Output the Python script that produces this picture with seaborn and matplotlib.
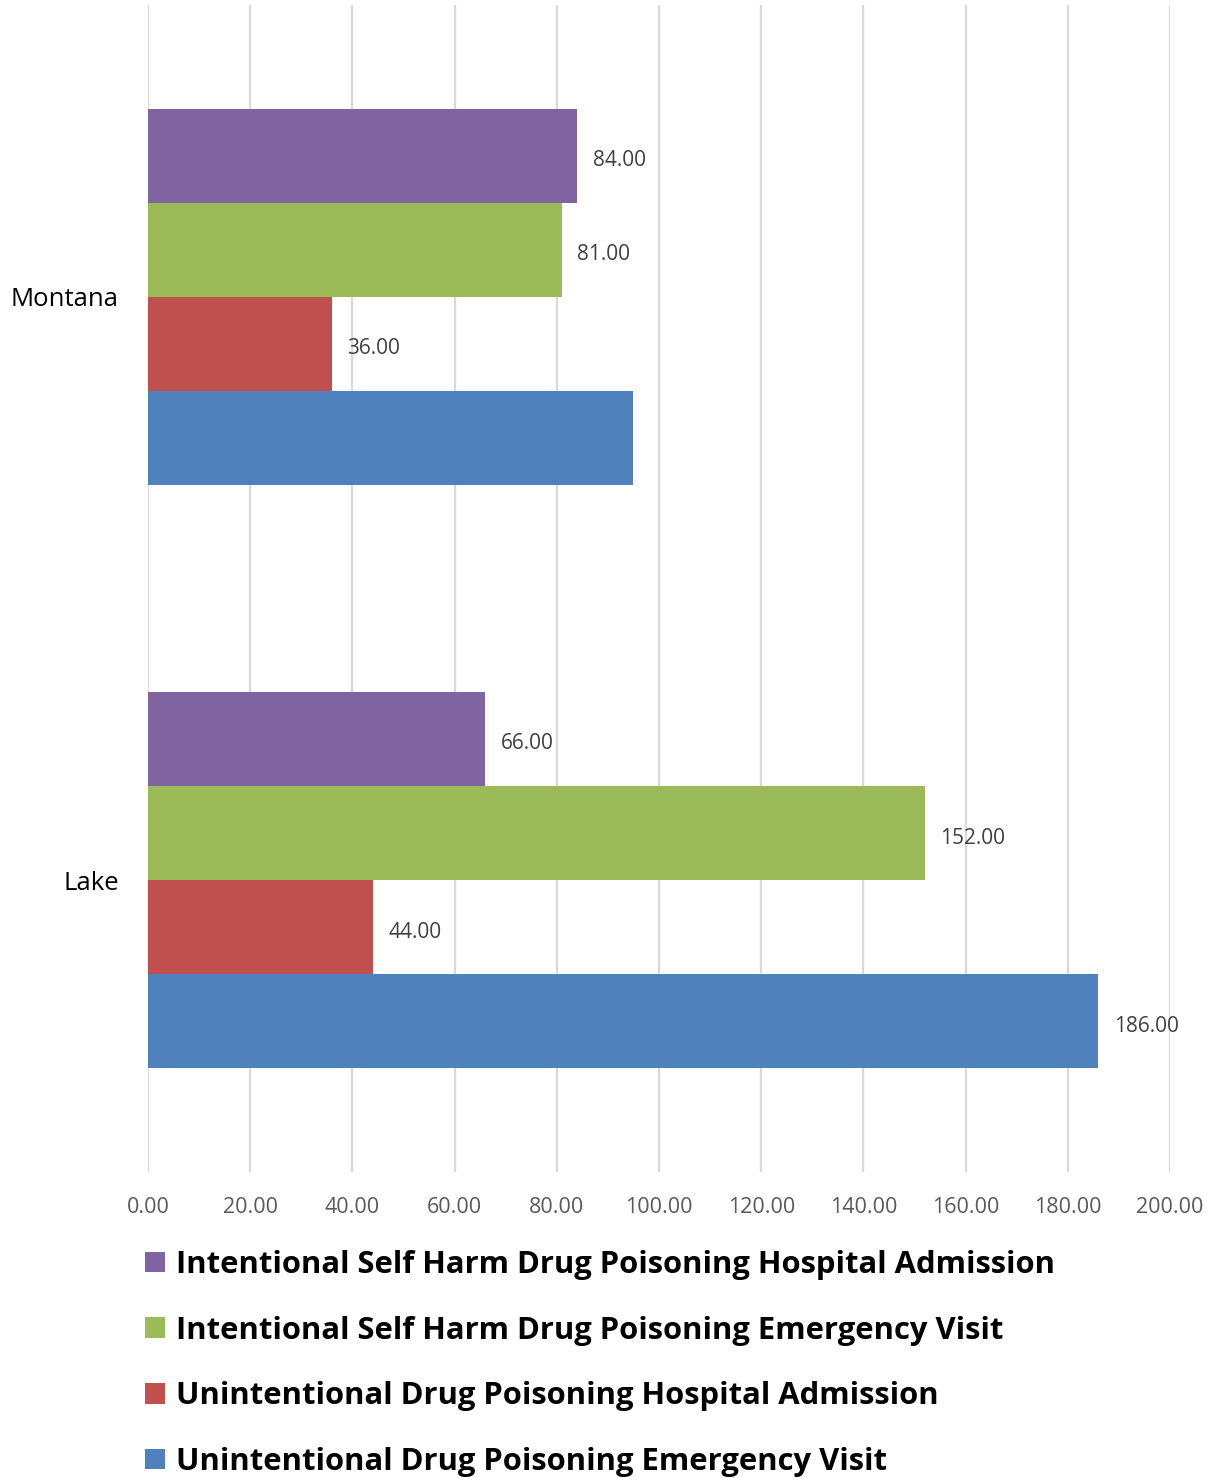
import matplotlib
matplotlib.use("Agg")
import matplotlib.pyplot as plt
import seaborn as sns
import pandas as pd

regions = ["Montana", "Lake"]
series = [
    "Intentional Self Harm Drug Poisoning Hospital Admission",
    "Intentional Self Harm Drug Poisoning Emergency Visit",
    "Unintentional Drug Poisoning Hospital Admission",
    "Unintentional Drug Poisoning Emergency Visit",
]
colors = ["#8064A2", "#9BBB59", "#C0504D", "#4F81BD"]
# values per series, in region order (Montana, Lake)
self_harm_admission = [84.0, 66.0]
self_harm_emergency = [81.0, 152.0]
unintentional_admission = [36.0, 44.0]
unintentional_emergency = [95.0, 186.0]
# which bars carry a value label, in region order
label_shown = [
    [True, True],
    [True, True],
    [True, True],
    [False, True],
]
x_ticks = [0, 20, 40, 60, 80, 100, 120, 140, 160, 180, 200]

values = [self_harm_admission, self_harm_emergency,
          unintentional_admission, unintentional_emergency]
rows = []
for s, vals in zip(series, values):
    for r, v in zip(regions, vals):
        rows.append({"region": r, "series": s, "value": v})
df = pd.DataFrame(rows)

sns.set_theme(style="white")
plt.rcParams["font.family"] = ["Open Sans", "DejaVu Sans"]

W, H = 1208, 1478
fig = plt.figure(figsize=(W / 100, H / 100), dpi=100)
ax = fig.add_axes([148 / W, 1 - 1172 / H, (1170 - 148) / W, (1172 - 5) / H])

sns.barplot(data=df, y="region", x="value", hue="series", order=regions,
            hue_order=series, palette=colors, orient="h", width=0.645,
            gap=0, linewidth=0, saturation=1, ax=ax, zorder=3)

ax.set_xlim(0, 200)
ax.set_ylim(1.5, -0.5)
ax.set_xticks(x_ticks)
ax.set_xticklabels([f"{t:.2f}" for t in x_ticks], color="#595959", fontsize=15.5)
ax.tick_params(axis="x", length=0, pad=18)
ax.tick_params(axis="y", length=0, pad=21, labelsize=18.5, labelcolor="black")
ax.set_xlabel("")
ax.set_ylabel("")
ax.grid(axis="x", color="#D9D9D9", linewidth=1.6, zorder=0)
ax.grid(axis="y", visible=False)
for sp in ax.spines.values():
    sp.set_visible(False)

for container, shown in zip(ax.containers, label_shown):
    labels = [f"{bar.get_width():.2f}" if ok else ""
              for bar, ok in zip(container, shown)]
    texts = ax.bar_label(container, labels=labels, padding=11, fontsize=15,
                         color="#404040")
    for t in texts:
        t.set_y(-3.5)

handles, labels = ax.get_legend_handles_labels()
ax.get_legend().remove()
fig.legend(handles, labels, loc="upper left",
           bbox_to_anchor=(145 / W, 1 - 1250 / H), frameon=False,
           prop={"weight": "bold", "size": 22.3}, labelcolor="black",
           handlelength=0.645, handleheight=0.645, handletextpad=0.35,
           labelspacing=1.15, borderaxespad=0, borderpad=0)

fig.savefig("out.png", dpi=100, facecolor="white")
